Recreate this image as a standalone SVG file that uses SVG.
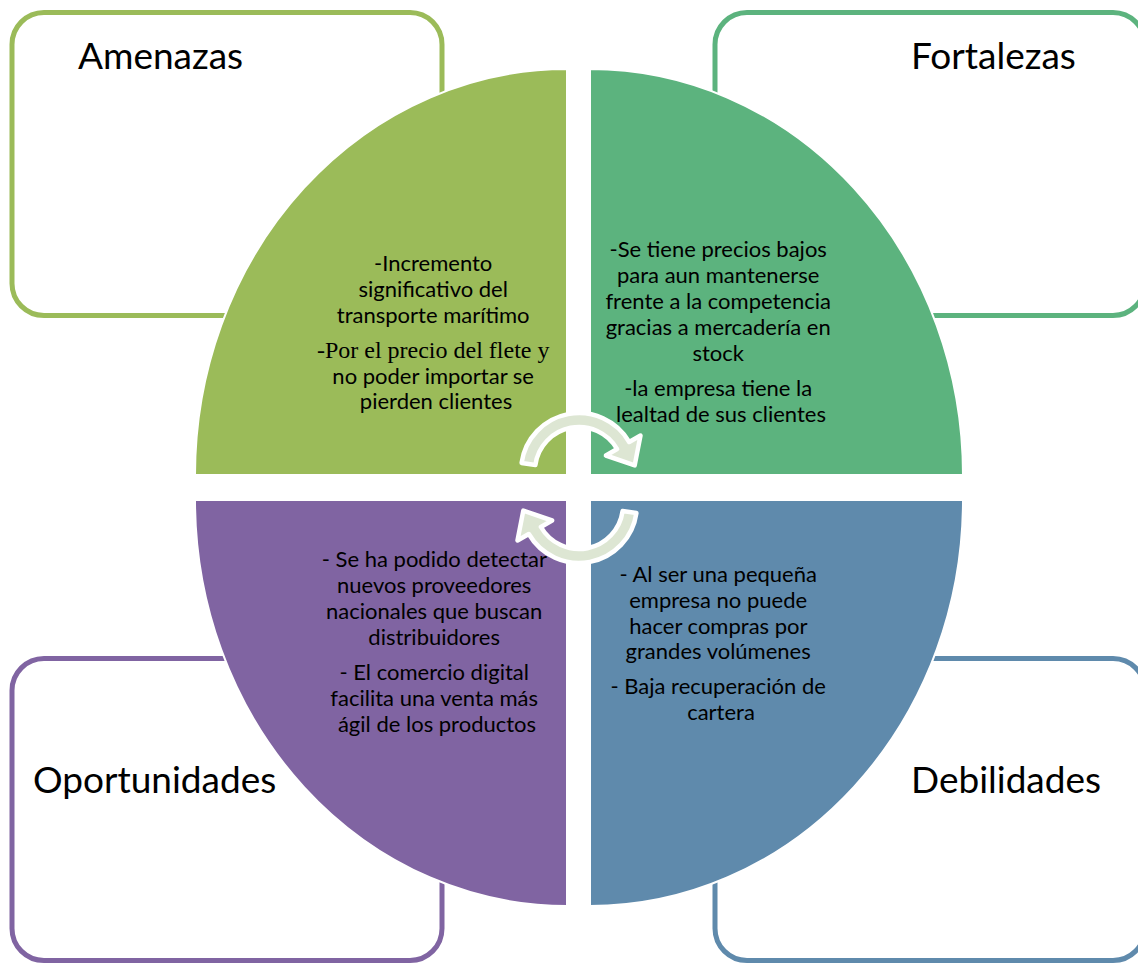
<svg xmlns="http://www.w3.org/2000/svg" width="1138" height="963" viewBox="0 0 1138 963">
<style>
.box{fill:#fff;stroke-width:5}
.q{stroke:#fff;stroke-width:2}
.title{font-family:Lato,"Liberation Sans",sans-serif;font-size:37px;fill:#000}
.body{font-family:Lato,"Liberation Sans",sans-serif;font-size:22px;fill:#000;text-anchor:middle}
.serif{font-family:"Liberation Serif",serif;font-size:24px}
.arr{fill:#DDE6D3;stroke:#fff;stroke-width:4.5;stroke-linejoin:round}
</style>
<rect width="1138" height="963" fill="#fff"/>
<g id="amenazas">
<rect class="box" x="12" y="12.5" width="430" height="303" rx="32" stroke="#9BBB59"/>
<path class="q" d="M567,475 L195,475 A372 406 0 0 1 567,69 Z" fill="#9BBB59"/>
<text class="title" x="78" y="69">Amenazas</text>
<text class="body">
<tspan x="436" y="271">-Incremento</tspan>
<tspan x="436" y="297">significativo del</tspan>
<tspan x="436" y="323">transporte marítimo</tspan>
<tspan x="436" y="358" class="serif">-Por el precio del flete y</tspan>
<tspan x="436" y="384">no poder importar se</tspan>
<tspan x="436" y="409">pierden clientes</tspan>
</text>
</g>
<g id="fortalezas">
<rect class="box" x="715" y="12.5" width="430" height="303" rx="32" stroke="#5CB37E"/>
<path class="q" d="M590,475 L590,69 A373 406 0 0 1 963,475 Z" fill="#5CB37E"/>
<text class="title" x="911" y="69">Fortalezas</text>
<text class="body">
<tspan x="721" y="257">-Se tiene precios bajos</tspan>
<tspan x="721" y="283">para aun mantenerse</tspan>
<tspan x="721" y="309">frente a la competencia</tspan>
<tspan x="721" y="335">gracias a mercadería en</tspan>
<tspan x="721" y="361">stock</tspan>
<tspan x="721" y="396">-la empresa tiene la</tspan>
<tspan x="721" y="422">lealtad de sus clientes</tspan>
</text>
</g>
<g id="oportunidades">
<rect class="box" x="12" y="658.5" width="430" height="302" rx="32" stroke="#8064A2"/>
<path class="q" d="M567,500 L567,906 A372 406 0 0 1 195,500 Z" fill="#8064A2"/>
<text class="title" x="33" y="793">Oportunidades</text>
<text class="body">
<tspan x="437" y="567">- Se ha podido detectar</tspan>
<tspan x="437" y="593">nuevos proveedores</tspan>
<tspan x="437" y="619">nacionales que buscan</tspan>
<tspan x="437" y="645">distribuidores</tspan>
<tspan x="437" y="680">- El comercio digital</tspan>
<tspan x="437" y="706">facilita una venta más</tspan>
<tspan x="437" y="732">ágil de los productos</tspan>
</text>
</g>
<g id="debilidades">
<rect class="box" x="715" y="658.5" width="430" height="302" rx="32" stroke="#5F8AAC"/>
<path class="q" d="M590,500 L963,500 A373 406 0 0 1 590,906 Z" fill="#5F8AAC"/>
<text class="title" x="911" y="793">Debilidades</text>
<text class="body">
<tspan x="721" y="582">- Al ser una pequeña</tspan>
<tspan x="721" y="608">empresa no puede</tspan>
<tspan x="721" y="634">hacer compras por</tspan>
<tspan x="721" y="659">grandes volúmenes</tspan>
<tspan x="721" y="694">- Baja recuperación de</tspan>
<tspan x="721" y="720">cartera</tspan>
</text>
</g>
<g id="connectors">
<path id="arrow-top" class="arr" d="M521.6,462.9 A58 58 0 0 1 629.2,442 L640.5,435.5 L634.7,465.4 L605.9,455.5 L617.1,449 A44 44 0 0 0 535.4,464.9 Z"/>
<path id="arrow-bottom" class="arr" transform="rotate(180 579 488)" d="M521.6,462.9 A58 58 0 0 1 629.2,442 L640.5,435.5 L634.7,465.4 L605.9,455.5 L617.1,449 A44 44 0 0 0 535.4,464.9 Z"/>
</g>
</svg>
